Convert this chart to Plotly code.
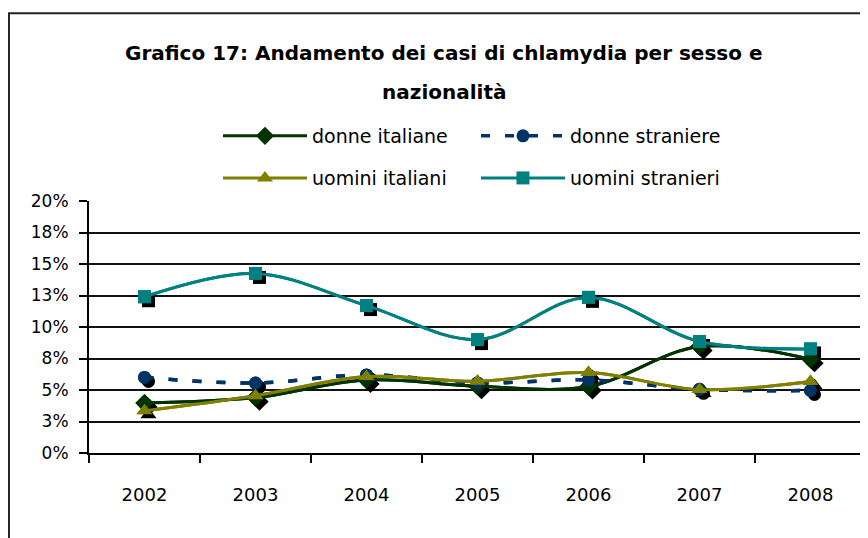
import plotly.graph_objects as go

years = ["2002", "2003", "2004", "2005", "2006", "2007", "2008"]
donne_italiane = [0.0396, 0.0440, 0.0580, 0.0530, 0.0528, 0.0845, 0.0744]
donne_straniere = [0.0600, 0.0555, 0.0620, 0.0556, 0.0580, 0.0505, 0.0496]
uomini_italiani = [0.0335, 0.0455, 0.0607, 0.0570, 0.0638, 0.0503, 0.0567]
uomini_stranieri = [0.1240, 0.1425, 0.1170, 0.0900, 0.1235, 0.0885, 0.0826]

y_ticks = [0, 0.025, 0.05, 0.075, 0.10, 0.125, 0.15, 0.175, 0.20]
y_ticktext = ["0%", "3%", "5%", "8%", "10%", "13%", "15%", "18%", "20%"]

series = [
    ("donne italiane", donne_italiane, "#003300", "diamond", 14, "solid", "legend"),
    ("donne straniere", donne_straniere, "#003366", "circle", 13, "9px,15px", "legend"),
    ("uomini italiani", uomini_italiani, "#808000", "triangle-up", 14, "solid", "legend2"),
    ("uomini stranieri", uomini_stranieri, "#008080", "square", 13, "solid", "legend2"),
]

FONT = "DejaVu Sans"
fig = go.Figure()


def main_trace(name, vals, col, sym, size, dash, lg, xa, ya, show):
    return go.Scatter(
        x=years, y=vals, name=name, mode="lines+markers", xaxis=xa, yaxis=ya,
        line=dict(color=col, width=3.5 if dash != "solid" else 3, shape="spline", dash=dash),
        marker=dict(symbol=sym, size=size, color=col, line=dict(width=0)),
        legend=lg, showlegend=show, hoverinfo="skip" if not show else None)


# base layer: carries the legend entries and the visible axes
for s in series:
    fig.add_trace(main_trace(*s, "x", "y", True))

# marker shadows (overlay axis shifted by a few pixels)
for name, vals, col, sym, size, dash, lg in series:
    fig.add_trace(go.Scatter(
        x=years, y=vals, mode="markers", xaxis="x2", yaxis="y2",
        marker=dict(symbol=sym, size=size, color="black", line=dict(width=0)),
        showlegend=False, hoverinfo="skip"))

# top layer: the same series drawn again above their shadows
for s in series:
    fig.add_trace(main_trace(*s, "x3", "y3", False))

xr = [-0.5, 6.5]
yr = [0, 0.20]
dx = 4 * 7 / 777
dy = 4 * 0.20 / 252.5

common_x = dict(type="category", categoryorder="array", categoryarray=years)
fig.update_layout(
    width=868, height=538,
    margin=dict(l=81, r=10, t=193, b=93),
    paper_bgcolor="white", plot_bgcolor="white",
    font=dict(family=FONT, color="black"),
    showlegend=True,
    xaxis=dict(**common_x, range=xr, showgrid=False, showline=True, linecolor="black", linewidth=2,
               ticks="outside", ticklen=8, tickwidth=2, tickcolor="black", tickson="boundaries",
               tickfont=dict(size=18, family=FONT), ticklabelstandoff=24, zeroline=False),
    yaxis=dict(range=yr, tickvals=y_ticks, ticktext=y_ticktext, showgrid=True, gridcolor="#111",
               gridwidth=2, showline=True, linecolor="black", linewidth=2, ticks="outside",
               ticklen=8, tickwidth=2, tickcolor="black", tickfont=dict(size=17, family=FONT),
               ticklabelstandoff=7, zeroline=False),
    xaxis2=dict(**common_x, range=[xr[0] - dx, xr[1] - dx], overlaying="x", visible=False),
    yaxis2=dict(range=[yr[0] + dy, yr[1] + dy], overlaying="y", visible=False),
    xaxis3=dict(**common_x, range=xr, overlaying="x", visible=False),
    yaxis3=dict(range=yr, overlaying="y", visible=False),
    legend=dict(orientation="h", x=0.166, y=1.258, xanchor="left", yanchor="middle",
                entrywidth=159, entrywidthmode="pixels", itemwidth=84,
                font=dict(size=19, family=FONT), bgcolor="rgba(0,0,0,0)"),
    legend2=dict(orientation="h", x=0.166, y=1.091, xanchor="left", yanchor="middle",
                 entrywidth=159, entrywidthmode="pixels", itemwidth=84,
                 font=dict(size=19, family=FONT), bgcolor="rgba(0,0,0,0)"),
    annotations=[
        dict(text="<b>Grafico 17: Andamento dei casi di chlamydia per sesso e</b>", xref="paper", yref="paper",
             x=0.457, y=1.587, xanchor="center", yanchor="middle", showarrow=False,
             font=dict(size=20, family=FONT)),
        dict(text="<b>nazionalità</b>", xref="paper", yref="paper",
             x=0.457, y=1.4325, xanchor="center", yanchor="middle", showarrow=False,
             font=dict(size=20, family=FONT)),
    ],
    shapes=[dict(type="rect", xref="paper", yref="paper", x0=-0.103, x1=1.05, y0=-0.6, y1=1.745,
                 line=dict(color="#222", width=2), fillcolor="rgba(0,0,0,0)", layer="below")],
)

fig.write_html("out.html")
